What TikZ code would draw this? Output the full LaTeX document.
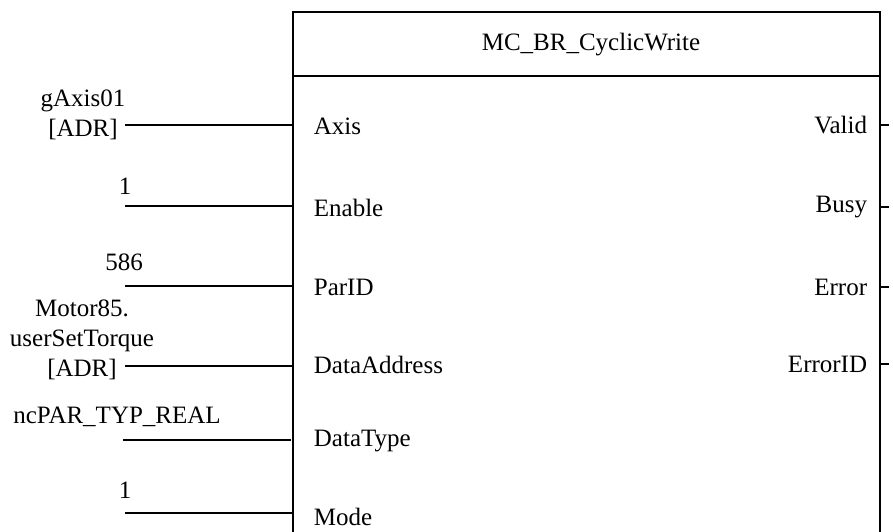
\documentclass[tikz,border=0pt]{standalone}
\usepackage{fontspec}
\setmainfont{Liberation Serif}
\begin{document}
\begin{tikzpicture}[x=1pt,y=-1pt, line width=1.8pt,
  font=\fontsize{25}{30}\selectfont,
  lbl/.style={inner sep=0pt},
  pinl/.style={inner sep=0pt, anchor=west},
  pinr/.style={inner sep=0pt, anchor=east},
  wire/.style={line width=1.8pt}]
\useasboundingbox (0,0) rectangle (893,532);
% block
\draw (293,545) -- (293,12) -- (880,12) -- (880,545);
\draw (293,76) -- (880,76);
\node[lbl] (title) at (591,45) {MC\_BR\_CyclicWrite};
% input pins
\node[pinl] (pAxis) at (313,126) {Axis};
\node[pinl] (pEnable) at (313,208) {Enable};
\node[pinl] (pParID) at (313,287) {ParID};
\node[pinl] (pData) at (313,365) {DataAddress};
\node[pinl] (pType) at (313,441) {DataType};
\node[pinl] (pMode) at (313,517) {Mode};
% output pins
\node[pinr] (pValid) at (868,125) {Valid};
\node[pinr] (pBusy) at (868,207) {Busy};
\node[pinr] (pError) at (868,287) {Error};
\node[pinr] (pErrID) at (868,364) {ErrorID};
% input values
\node[lbl, align=center] (vAxis) at (83,115) {gAxis01\\{}[ADR]};
\node[lbl] (vEnable) at (125,186) {1};
\node[lbl] (vParID) at (124,262) {586};
\node[lbl, align=center] (vData) at (82,340) {Motor85.\\userSetTorque\\{}[ADR]};
\node[lbl] (vType) at (117,417) {ncPAR\_TYP\_REAL};
\node[lbl] (vMode) at (125,490) {1};
% wire end points
\coordinate (a1) at (125,125); \coordinate (b1) at (293,125);
\coordinate (a2) at (125,206); \coordinate (b2) at (293,206);
\coordinate (a3) at (125,286); \coordinate (b3) at (293,286);
\coordinate (a4) at (125,366); \coordinate (b4) at (293,366);
\coordinate (a5) at (123,440); \coordinate (b5) at (291,440);
\coordinate (a6) at (125,513); \coordinate (b6) at (293,513);
\foreach \i in {1,...,6} \draw[wire] (a\i) -- (b\i);
% output stubs
\coordinate (o1) at (880,125); \coordinate (t1) at (889,125);
\coordinate (o2) at (880,207); \coordinate (t2) at (889,207);
\coordinate (o3) at (880,287); \coordinate (t3) at (889,287);
\coordinate (o4) at (880,364); \coordinate (t4) at (889,364);
\foreach \i in {1,...,4} \draw[wire] (o\i) -- (t\i);
\end{tikzpicture}
\end{document}
